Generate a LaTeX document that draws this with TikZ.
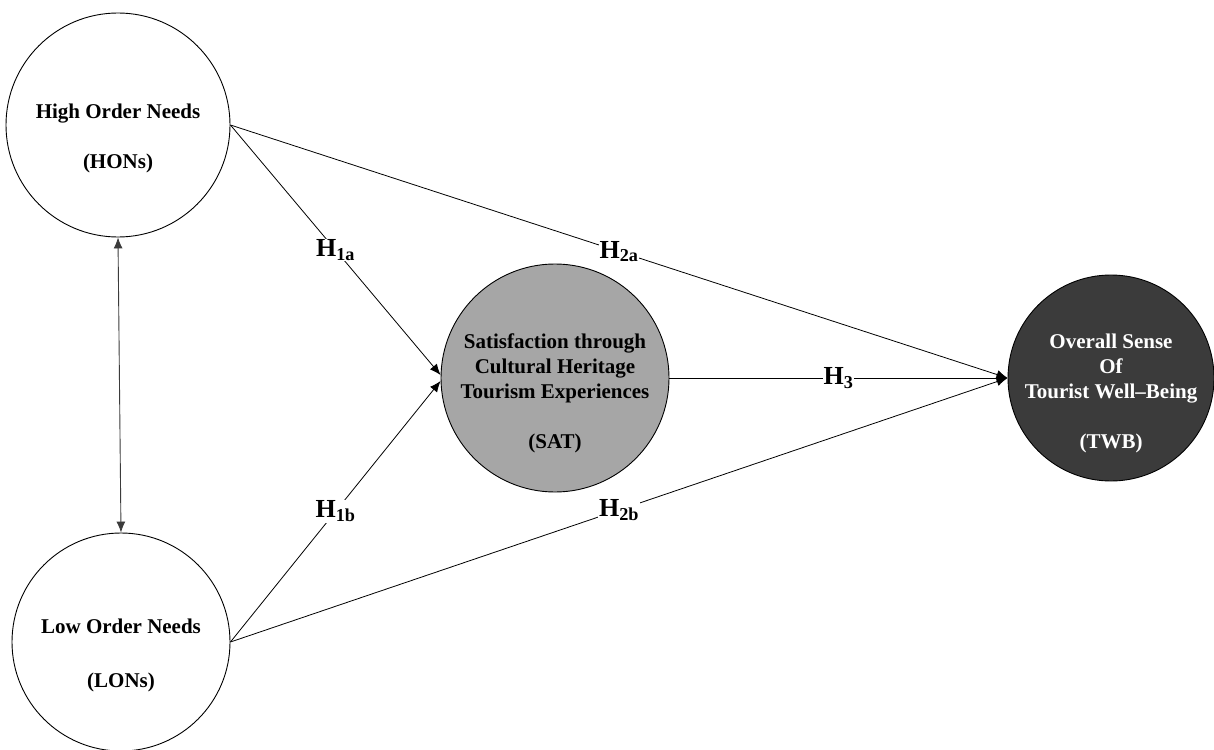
\documentclass[tikz,border=0pt]{standalone}
\usepackage{fontspec}
\setmainfont{Liberation Serif}
\usetikzlibrary{arrows.meta}

\definecolor{satgray}{RGB}{166,166,166}
\definecolor{twbgray}{RGB}{59,59,59}

\begin{document}
\begin{tikzpicture}[x=1pt,y=-1pt,
  var/.style={circle,draw,line width=0.9pt,inner sep=0pt,minimum size=#1},
  txt/.style={align=center,font=\fontsize{21}{25}\selectfont\bfseries},
  hyp/.style={line width=0.8pt,-{Latex[length=11pt,width=9pt]}},
  hlabel/.style={fill=white,inner sep=1pt,font=\fontsize{26}{30}\selectfont\bfseries}]
\useasboundingbox (0,0) rectangle (1214,749);

% constructs
\node [var=224pt] (hon) at (118,125) {};
\node [var=218pt] (lon) at (121,642) {};
\node [var=228pt,fill=satgray] (sat) at (555,378) {};
\node [var=206pt,fill=twbgray] (twb) at (1111,378) {};

\node [txt] (hon-t) at ([yshift=-13pt]hon.center) {High Order Needs\\[25pt](HONs)};
\node [txt] (lon-t) at ([yshift=-13pt]lon.center) {Low Order Needs\\[29pt](LONs)};
\node [txt] (sat-t) at ([yshift=-15pt]sat.center)
  {Satisfaction through\\Cultural Heritage\\Tourism Experiences\\[25pt](SAT)};
\node [txt,text=white] (twb-t) at ([yshift=-15pt]twb.center)
  {Overall Sense\\Of\\Tourist Well--Being\\[25pt](TWB)};

% hypotheses
\draw [hyp] (hon.east) -- node[hlabel] {H\textsubscript{1a}} ([yshift=3pt]sat.west);
\draw [hyp] (lon.east) -- node[hlabel] {H\textsubscript{1b}} ([yshift=-3pt]sat.west);
\draw [hyp] (hon.east) -- node[hlabel] {H\textsubscript{2a}} (twb.west);
\draw [hyp] (sat.east) -- node[hlabel] {H\textsubscript{3}} (twb.west);
\draw [hyp] (lon.east) -- node[hlabel] {H\textsubscript{2b}} (twb.west);

% correlation
\draw [line width=0.9pt,draw=twbgray,{Latex[length=11pt,width=9pt]}-{Latex[length=11pt,width=9pt]}]
  (hon.south) -- (lon.north);
\end{tikzpicture}
\end{document}
